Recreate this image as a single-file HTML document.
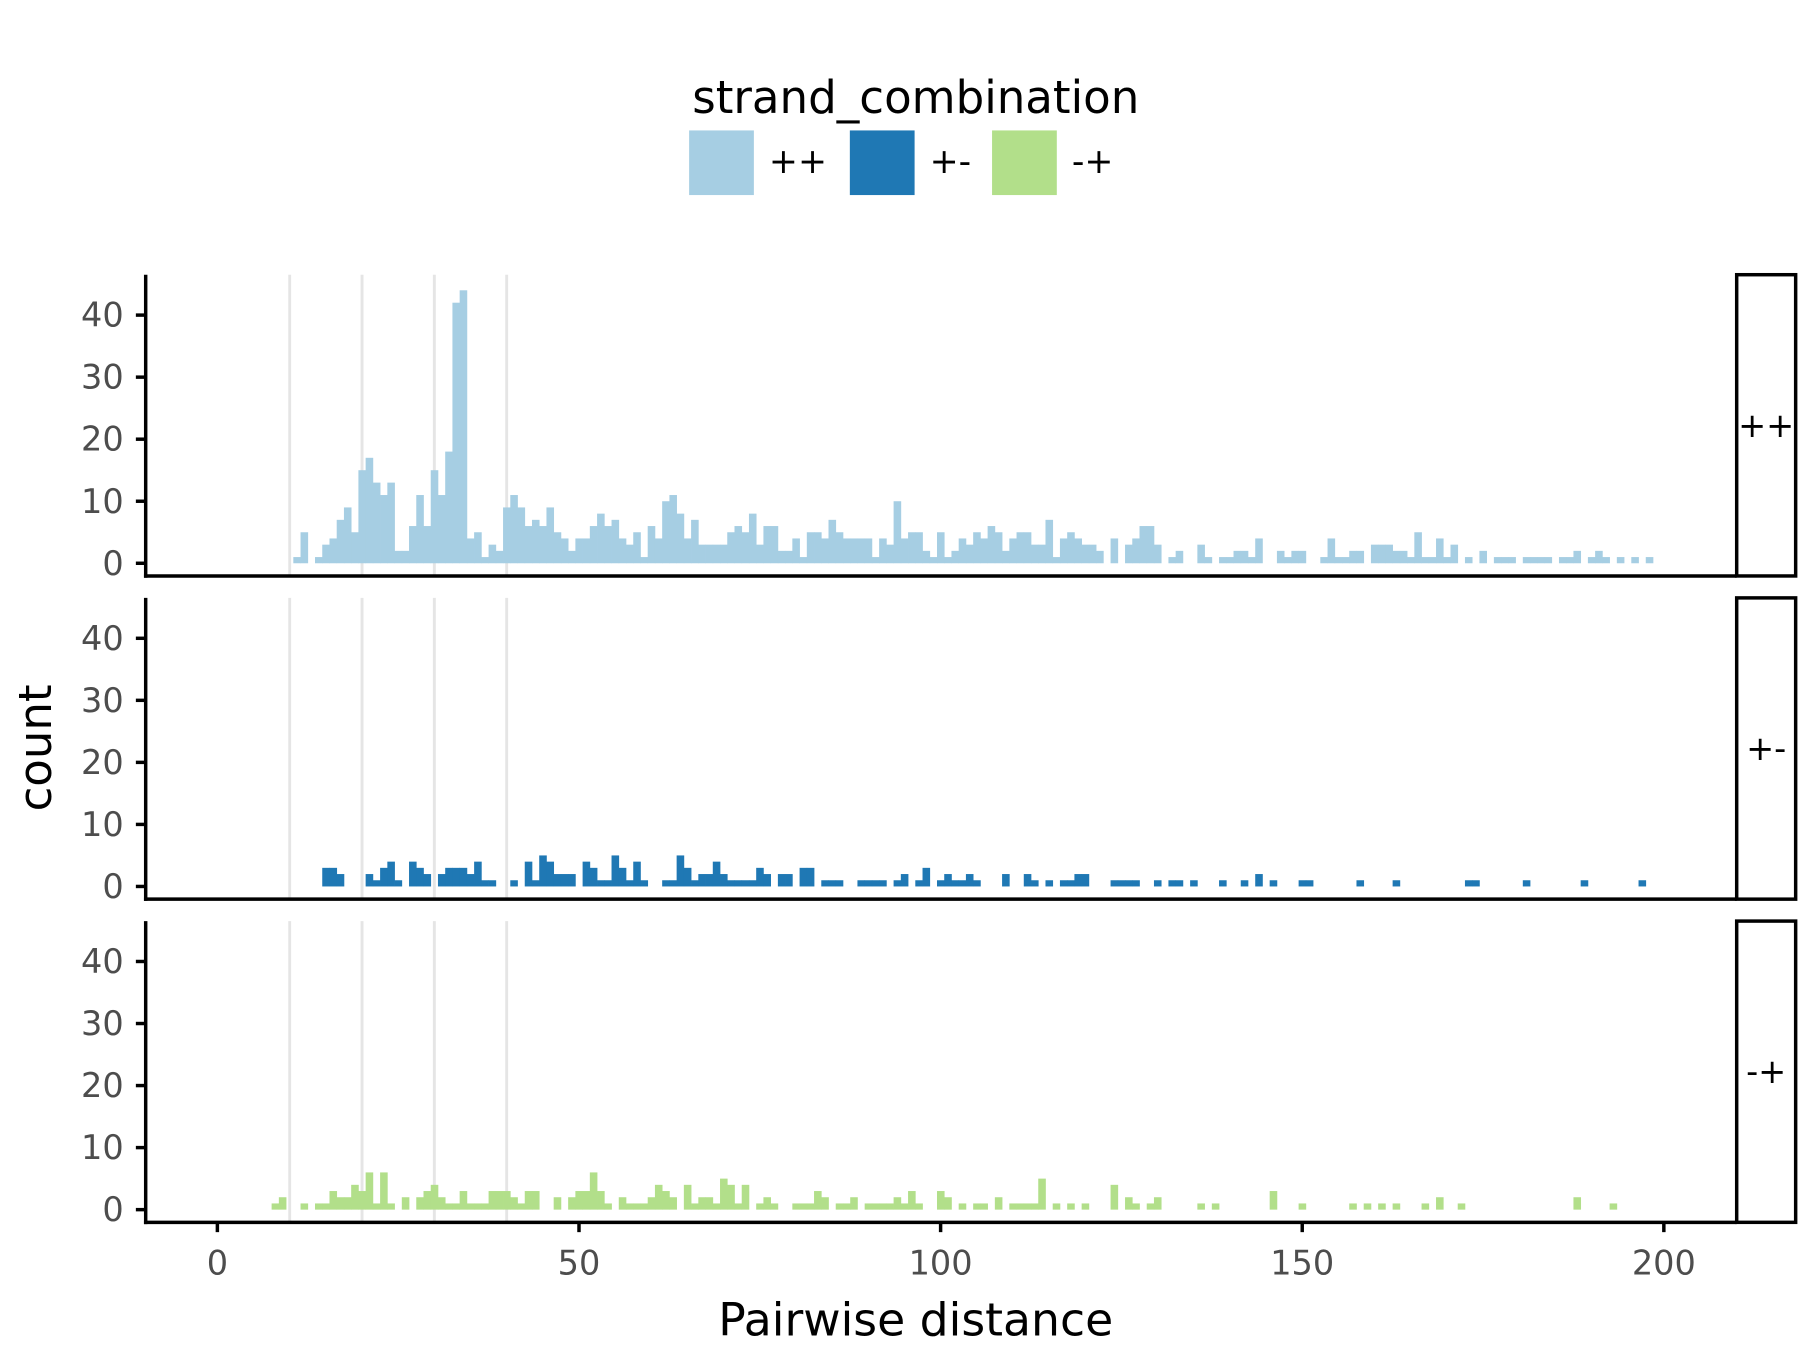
<!DOCTYPE html>
<html><head><meta charset="utf-8"><style>
html,body{margin:0;padding:0;background:#fff;}
svg{display:block;font-family:"DejaVu Sans","Liberation Sans",sans-serif;}
</style></head><body>
<svg id="chart" width="1813" height="1362" viewBox="0 0 1568 1180" preserveAspectRatio="none" xmlns="http://www.w3.org/2000/svg">
<g>
<text x="792" y="98" font-size="39" text-anchor="middle" fill="#000">strand_combination</text>
<rect x="596" y="113" width="56" height="56" fill="#a6cee3"/>
<text x="665" y="150" font-size="30" fill="#000">++</text>
<rect x="735" y="113" width="56" height="56" fill="#1f78b4"/>
<text x="804" y="150" font-size="30" fill="#000">+-</text>
<rect x="858" y="113" width="56" height="56" fill="#b2df8a"/>
<text x="927" y="150" font-size="30" fill="#000">-+</text>
</g>
<g id="panels"></g>
<text transform="translate(44,648) rotate(-90)" font-size="39" text-anchor="middle" fill="#000">count</text>
<text x="792" y="1157" font-size="39.5" text-anchor="middle" fill="#000">Pairwise distance</text>
</svg>
<script>
const xTicks = [0, 50, 100, 150, 200];
const yTicks = [0, 10, 20, 30, 40];
const gridX = [10, 20, 30, 40];
const panelLabels = ["++", "+-", "-+"];
const ppStart = 11;
const ppCounts = [1,5,0,1,3,4,7,9,5,15, 17,13,11,13,2,2,6,11,6,15, 11,18,42,44,4,5,1,3,2,9, 11,9,6,7,6,9,5,4,2,4, 4,6,8,6,7,4,3,5,1,6, 4,10,11,8,4,7,3,3,3,3, 5,6,5,8,3,6,6,2,2,4, 1,5,5,4,7,5,4,4,4,4, 1,4,3,10,4,5,5,2,1,5, 1,2,4,3,5,4,6,5,2,4, 5,5,3,3,7,1,4,5,4,3, 3,2,0,4,0,3,4,6,6,3, 0,1,2,0,0,3,1,0,1,1, 2,2,1,4,0,0,2,1,2,2, 0,0,1,4,1,1,2,2,0,3, 3,3,2,2,1,5,1,1,4,1, 3,0,1,0,2,0,1,1,1,0, 1,1,1,1,0,1,1,2,0,1, 2,1,0,1,0,1,0,1];
const pmStart = 15;
const pmCounts = [3,3,2,0,0,0,2,1,3,4, 1,0,4,3,2,0,2,3,3,3, 2,4,1,1,0,0,1,0,4,1, 5,4,2,2,2,0,4,3,1,1, 5,3,1,4,1,0,0,1,1,5, 3,1,2,2,4,2,1,1,1,1, 3,2,0,2,2,0,3,3,0,1, 1,1,0,0,1,1,1,1,0,1, 2,0,1,3,0,1,2,1,1,2, 1,0,0,0,2,0,0,2,1,0, 1,0,1,1,2,2,0,0,0,1, 1,1,1,0,0,1,0,1,1,0, 1,0,0,0,1,0,0,1,0,2, 0,1,0,0,0,1,1,0,0,0, 0,0,0,1,0,0,0,0,1,0, 0,0,0,0,0,0,0,0,1,1, 0,0,0,0,0,0,1,0,0,0, 0,0,0,0,1,0,0,0,0,0, 0,0,1];
const mpStart = 8;
const mpCounts = [1,2,0,0,1,0,1,1,3,2, 2,4,3,6,1,6,1,0,2,0, 2,3,4,2,1,1,3,1,1,1, 3,3,3,2,1,3,3,0,0,2, 0,2,3,3,6,3,1,0,2,1, 1,1,2,4,3,2,0,4,1,2, 2,1,5,4,1,4,0,1,2,1, 0,0,1,1,1,3,2,0,1,1, 2,0,1,1,1,1,2,1,3,1, 0,0,3,2,0,1,0,1,1,0, 2,0,1,1,1,1,5,0,1,0, 1,0,1,0,0,0,4,0,2,1, 0,1,2,0,0,0,0,0,1,0, 1,0,0,0,0,0,0,0,3,0, 0,0,1,0,0,0,0,0,0,1, 0,1,0,1,0,1,0,0,0,1, 0,2,0,0,1,0,0,0,0,0, 0,0,0,0,0,0,0,0,0,0, 2,0,0,0,0,1];

const NS = "http://www.w3.org/2000/svg";
const series = [
  {start: ppStart, counts: ppCounts, color: "#a6cee3", key: "pp"},
  {start: pmStart, counts: pmCounts, color: "#1f78b4", key: "pm"},
  {start: mpStart, counts: mpCounts, color: "#b2df8a", key: "mp"}
];
const X0 = 188, XS = 6.255, LEFT = 126, RIGHT = 1502, STRIPW = 51;
const panelTop = [238, 518, 798], panelBot = [499, 779, 1059], zeroY = [488, 768, 1048], YS = 5.375;
function xs(v) { return X0 + v * XS; }
function mk(tag, attrs, parent) {
  const e = document.createElementNS(NS, tag);
  for (const k in attrs) e.setAttribute(k, attrs[k]);
  parent.appendChild(e);
  return e;
}
const root = document.getElementById("panels");
series.forEach((s, p) => {
  const g = mk("g", {}, root);
  
  
  const ys = v => zeroY[p] - v * YS;
  gridX.forEach(gx => {
    const l = mk("line", {x1: xs(gx), x2: xs(gx), y1: panelTop[p], y2: panelBot[p], stroke: "#e5e5e5", "stroke-width": 2.5}, g);
    
    
  });
  s.counts.forEach((c, i) => {
    if (c <= 0) return;
    const b = s.start + i;
    const r = mk("rect", {x: xs(b - 0.5), y: ys(c), width: XS + 0.3, height: c * YS, fill: s.color}, g);
    
    
  });
  const ya = mk("line", {x1: LEFT, x2: LEFT, y1: panelTop[p], y2: panelBot[p] + 1.5, stroke: "#000", "stroke-width": 3}, g);
  
  
  const xa = mk("line", {x1: LEFT - 1.5, x2: RIGHT, y1: panelBot[p], y2: panelBot[p], stroke: "#000", "stroke-width": 3}, g);
  
  
  yTicks.forEach(t => {
    const tk = mk("line", {x1: LEFT - 8.5, x2: LEFT, y1: ys(t), y2: ys(t), stroke: "#000", "stroke-width": 3}, g);
    
    
    const tl = mk("text", {x: LEFT - 19, y: ys(t) + 10, "font-size": 29, "text-anchor": "end", fill: "#4d4d4d"}, g);
    tl.textContent = t;
    
    
  });
  const st = mk("rect", {x: RIGHT, y: panelTop[p], width: STRIPW, height: panelBot[p] - panelTop[p], fill: "#fff", stroke: "#000", "stroke-width": 3}, g);
  
  
  const stt = mk("text", {x: RIGHT + STRIPW / 2, y: (panelTop[p] + panelBot[p]) / 2 + 10, "font-size": 29, "text-anchor": "middle", fill: "#000"}, g);
  stt.textContent = panelLabels[p];
  
  
});
xTicks.forEach(t => {
  const tk = mk("line", {x1: xs(t), x2: xs(t), y1: 1059, y2: 1067.5, stroke: "#000", "stroke-width": 3}, root);
  
  
  const tl = mk("text", {x: xs(t), y: 1104, "font-size": 29, "text-anchor": "middle", fill: "#4d4d4d"}, root);
  tl.textContent = t;
  
  
});
</script>
</body></html>
